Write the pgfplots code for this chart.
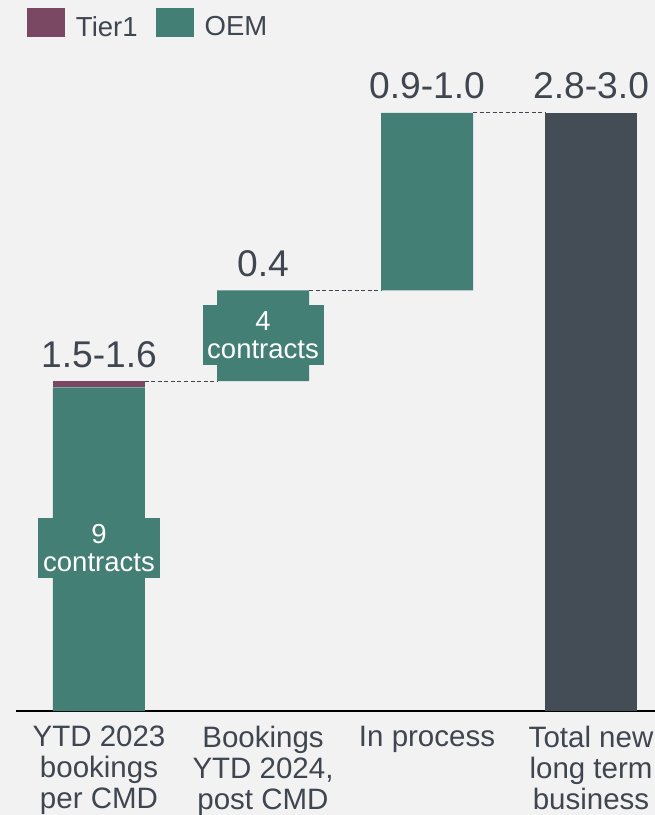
\documentclass[border=0pt]{standalone}
\usepackage{pgfplots}
\pgfplotsset{compat=1.18}
\usepackage{fontspec}
\setmainfont{Liberation Sans}
\definecolor{bg}{HTML}{F2F2F2}
\definecolor{oem}{HTML}{447F76}
\definecolor{tier}{HTML}{7A4862}
\definecolor{tot}{HTML}{444C56}
\definecolor{txt}{HTML}{3F4650}
\newcommand{\lblfont}{\fontsize{29.5bp}{31bp}\selectfont}
\newcommand{\legfont}{\fontsize{27.5bp}{31bp}\selectfont}
\newcommand{\boxfont}{\fontsize{27.5bp}{28bp}\selectfont}
\newcommand{\valfont}{\fontsize{37.2bp}{40bp}\selectfont}
\begin{document}
\begin{tikzpicture}
\fill[bg] (0,0) rectangle (655bp,815bp);
\begin{axis}[
  at={(16bp,104bp)}, anchor=south west,
  scale only axis, width=639bp, height=711bp,
  xmin=-0.506, xmax=3.390, ymin=0, ymax=3.448,
  ybar stacked, bar width=92bp,
  axis x line*=bottom, axis y line=none,
  x axis line style={-, line width=1.5bp, black},
  xtick={0,1,2,3},
  xticklabels={{YTD 2023\\bookings\\per CMD},{Bookings\\YTD 2024,\\post CMD},{In process},{Total new\\long term\\business}},
  major tick length=0pt,
  xticklabel style={align=center, font=\lblfont, text=txt, anchor=north, inner sep=0pt, yshift=-15bp},
  ytick=\empty,
  clip=false,
  reverse legend,
  legend columns=2,
  legend cell align=left,
  legend image code/.code={\fill[#1] (0bp,-10bp) rectangle (38bp,19bp); \path (49bp,0bp);},
  legend style={at={(0.0172,0.9887)}, anchor=north west, draw=none, fill=none,
    inner sep=0pt, outer sep=0pt, font=\legfont, text=txt,
    /tikz/column 2/.style={column sep=18bp},
    nodes={inner sep=0pt}},
]
\addplot[draw=none, fill=none, forget plot] coordinates {(0,0) (1,1.60) (2,2.04) (3,0)};
\addplot[draw=none, fill=oem] coordinates {(0,1.57) (1,0.44) (2,0.86) (3,0)};
\addplot[draw=none, fill=tier] coordinates {(0,0.03) (1,0) (2,0) (3,0)};
\addplot[draw=none, fill=tot, forget plot] coordinates {(0,0) (1,0) (2,0) (3,2.90)};
\legend{OEM,Tier1}
\tikzset{conn/.style={draw=txt, line width=1bp, dash pattern=on 4bp off 2.5bp}}
\draw[conn] (axis cs:0.2805,1.60) -- (axis cs:0.7195,1.60);
\draw[conn] (axis cs:1.2805,2.04) -- (axis cs:1.7195,2.04);
\draw[conn] (axis cs:2.2805,2.90) -- (axis cs:2.7195,2.90);
\node[anchor=base, font=\valfont, text=txt, yshift=14bp] at (axis cs:0,1.60) {1.5-1.6};
\node[anchor=base, font=\valfont, text=txt, yshift=14bp] at (axis cs:1,2.04) {0.4};
\node[anchor=base, font=\valfont, text=txt, yshift=14bp] at (axis cs:2,2.90) {0.9-1.0};
\node[anchor=base, font=\valfont, text=txt, yshift=14bp] at (axis cs:3,2.90) {2.8-3.0};
\coordinate (box1) at (axis cs:0,0.79);
\coordinate (box2) at (axis cs:1,1.823);
\end{axis}
\node[fill=oem, text=white, font=\boxfont, align=center, minimum width=122bp, minimum height=60bp, inner sep=0pt] at (box1) {9\\contracts};
\node[fill=oem, text=white, font=\boxfont, align=center, minimum width=121bp, minimum height=60bp, inner sep=0pt] at (box2) {4\\contracts};
\pgfresetboundingbox
\path[use as bounding box] (0,0) rectangle (655bp,815bp);
\end{tikzpicture}
\end{document}
